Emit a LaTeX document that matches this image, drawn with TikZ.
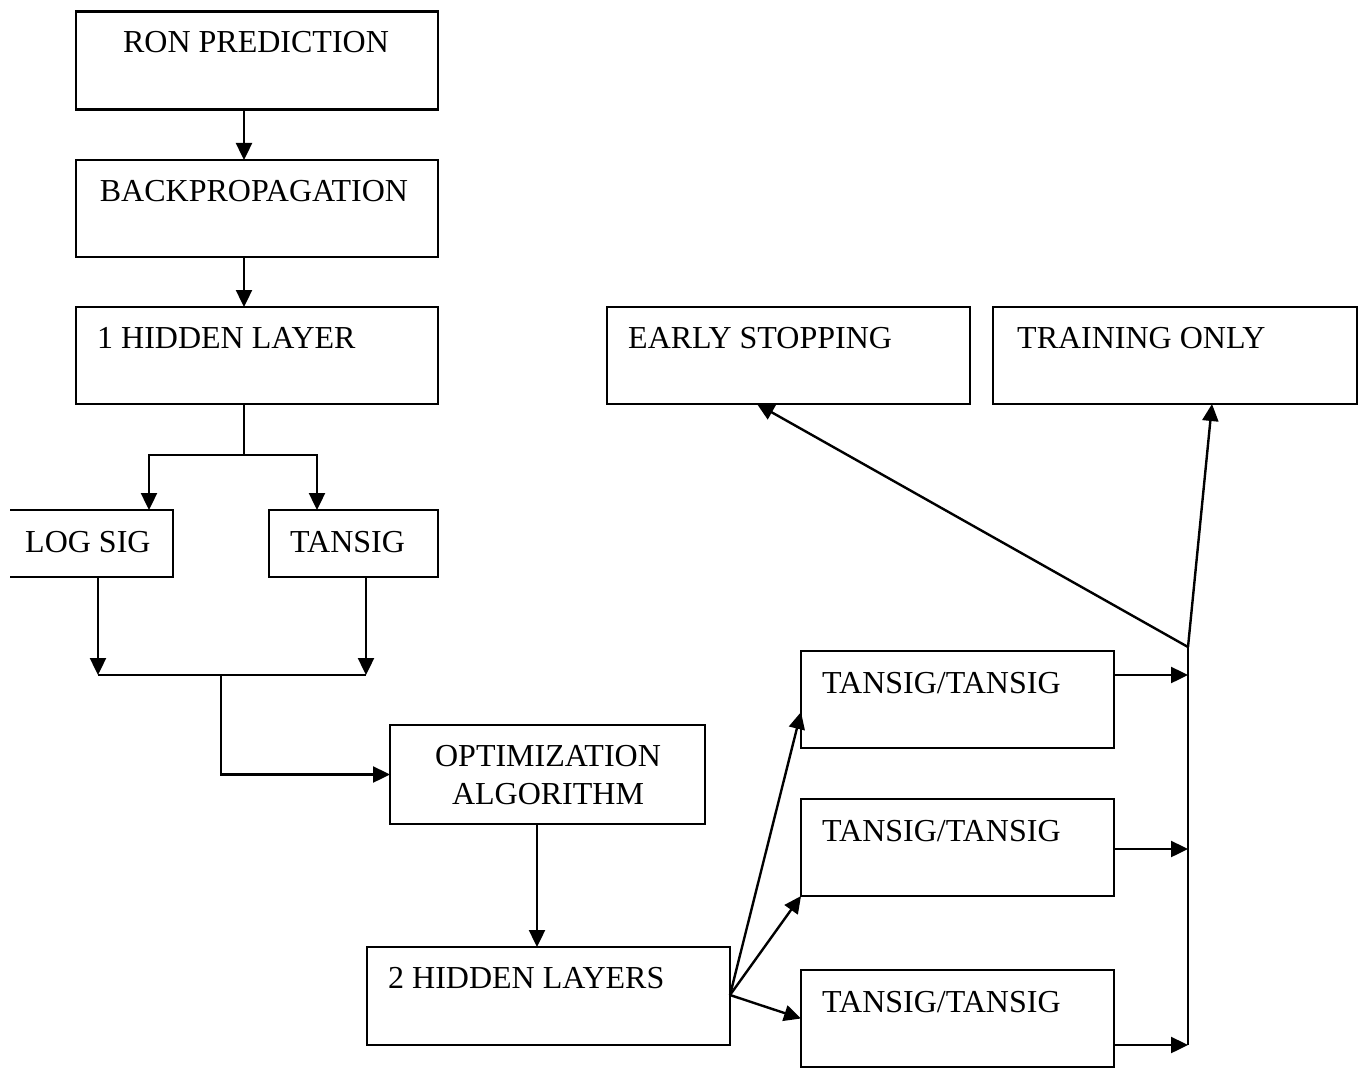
\documentclass[tikz,border=0pt]{standalone}
\usepackage{fontspec}
\setmainfont{Liberation Serif}
\usetikzlibrary{arrows.meta}
\begin{document}
\begin{tikzpicture}[x=1pt,y=-1pt,
  box/.style={draw, line width=2.4pt, inner sep=0pt, outer sep=0pt},
  nobox/.style={inner sep=0pt, outer sep=0pt},
  line/.style={line width=2.4pt},
  arr/.style={line width=2.4pt, -{Triangle[length=17pt,width=16pt]}},
  txt/.style={inner sep=0pt, font=\fontsize{32}{38}\selectfont}]
\useasboundingbox (0,0) rectangle (1365,1070);
% boxes
\node[box, minimum width=362pt, minimum height=98pt] (ron) at (257,60.5) {};
\node[box, minimum width=362pt, minimum height=97pt] (back) at (257,208.5) {};
\node[box, minimum width=362pt, minimum height=97pt] (hid1) at (257,355.5) {};
\node[nobox, minimum width=163pt, minimum height=67pt] (logsig) at (91.5,543.5) {};
\draw[line] (logsig.north west) -- (logsig.north east) -- (logsig.south east) -- (logsig.south west);
\node[box, minimum width=169pt, minimum height=67pt] (tansig) at (353.5,543.5) {};
\node[box, minimum width=363pt, minimum height=97pt] (early) at (788.5,355.5) {};
\node[box, minimum width=364pt, minimum height=97pt] (train) at (1175,355.5) {};
\node[box, minimum width=315pt, minimum height=99pt] (opt) at (547.5,774.5) {};
\node[box, minimum width=363pt, minimum height=98pt] (hid2) at (548.5,996) {};
\node[box, minimum width=313pt, minimum height=97pt] (tt1) at (957.5,699.5) {};
\node[box, minimum width=313pt, minimum height=97pt] (tt2) at (957.5,847.5) {};
\node[box, minimum width=313pt, minimum height=97pt] (tt3) at (957.5,1018.5) {};
% texts
\node[txt, anchor=base] (tron) at (256,53) {RON PREDICTION};
\node[txt, anchor=base] (tback) at (254,201) {BACKPROPAGATION};
\node[txt, anchor=base west] (thid1) at (97,348) {1 HIDDEN LAYER};
\node[txt, anchor=base west] (tlog) at (25,552) {LOG SIG};
\node[txt, anchor=base west] (ttan) at (290,552) {TANSIG};
\node[txt, anchor=base west] (tearly) at (628,348) {EARLY STOPPING};
\node[txt, anchor=base west] (ttrain) at (1017,348) {TRAINING ONLY};
\node[txt, anchor=base] (topt1) at (548,766) {OPTIMIZATION};
\node[txt, anchor=base] (topt2) at (548,804) {ALGORITHM};
\node[txt, anchor=base west] (thid2) at (388,988) {2 HIDDEN LAYERS};
\node[txt, anchor=base west] (ttt1) at (822,693) {TANSIG/TANSIG};
\node[txt, anchor=base west] (ttt2) at (822,841) {TANSIG/TANSIG};
\node[txt, anchor=base west] (ttt3) at (822,1012) {TANSIG/TANSIG};
% connectors
\draw[arr] ([xshift=-13pt]ron.south) -- ([xshift=-13pt]back.north);
\draw[arr] ([xshift=-13pt]back.south) -- ([xshift=-13pt]hid1.north);
\coordinate (s1) at (244,455);
\draw[line] ([xshift=-13pt]hid1.south) -- (s1);
\draw[arr] (s1) -| ([xshift=57.5pt]logsig.north);
\draw[arr] (s1) -| ([xshift=-36.5pt]tansig.north);
\coordinate (ml) at (98,675);
\coordinate (mr) at (366,675);
\coordinate (m1) at (221,675);
\draw[arr] (logsig.south -| ml) -- (ml);
\draw[arr] (tansig.south -| mr) -- (mr);
\draw[line] (ml) -- (mr);
\draw[arr] (m1) |- (opt.west);
\draw[arr] ([xshift=-10.5pt]opt.south) -- ([xshift=-11.5pt]hid2.north);
\coordinate (f) at (730,995);
\draw[arr] (f) -- ([yshift=-12.5pt]tt1.west);
\draw[arr] (f) -- (tt2.south west);
\draw[arr] (f) -- (tt3.west);
\coordinate (bt) at (1188,647);
\coordinate (bb) at (1188,1045);
\coordinate (r1) at ([yshift=24.5pt]tt1.east);
\coordinate (r2) at ([yshift=-1.5pt]tt2.east);
\coordinate (r3) at ([yshift=-26.5pt]tt3.east);
\draw[line] (bt) -- (bb);
\draw[arr] (r1) -- (r1 -| bt);
\draw[arr] (r2) -- (r2 -| bt);
\draw[arr] (r3) -- (r3 -| bt);
\draw[arr] (bt) -- ([xshift=-31.5pt]early.south);
\draw[arr] (bt) -- ([xshift=37pt]train.south);
\end{tikzpicture}
\end{document}
